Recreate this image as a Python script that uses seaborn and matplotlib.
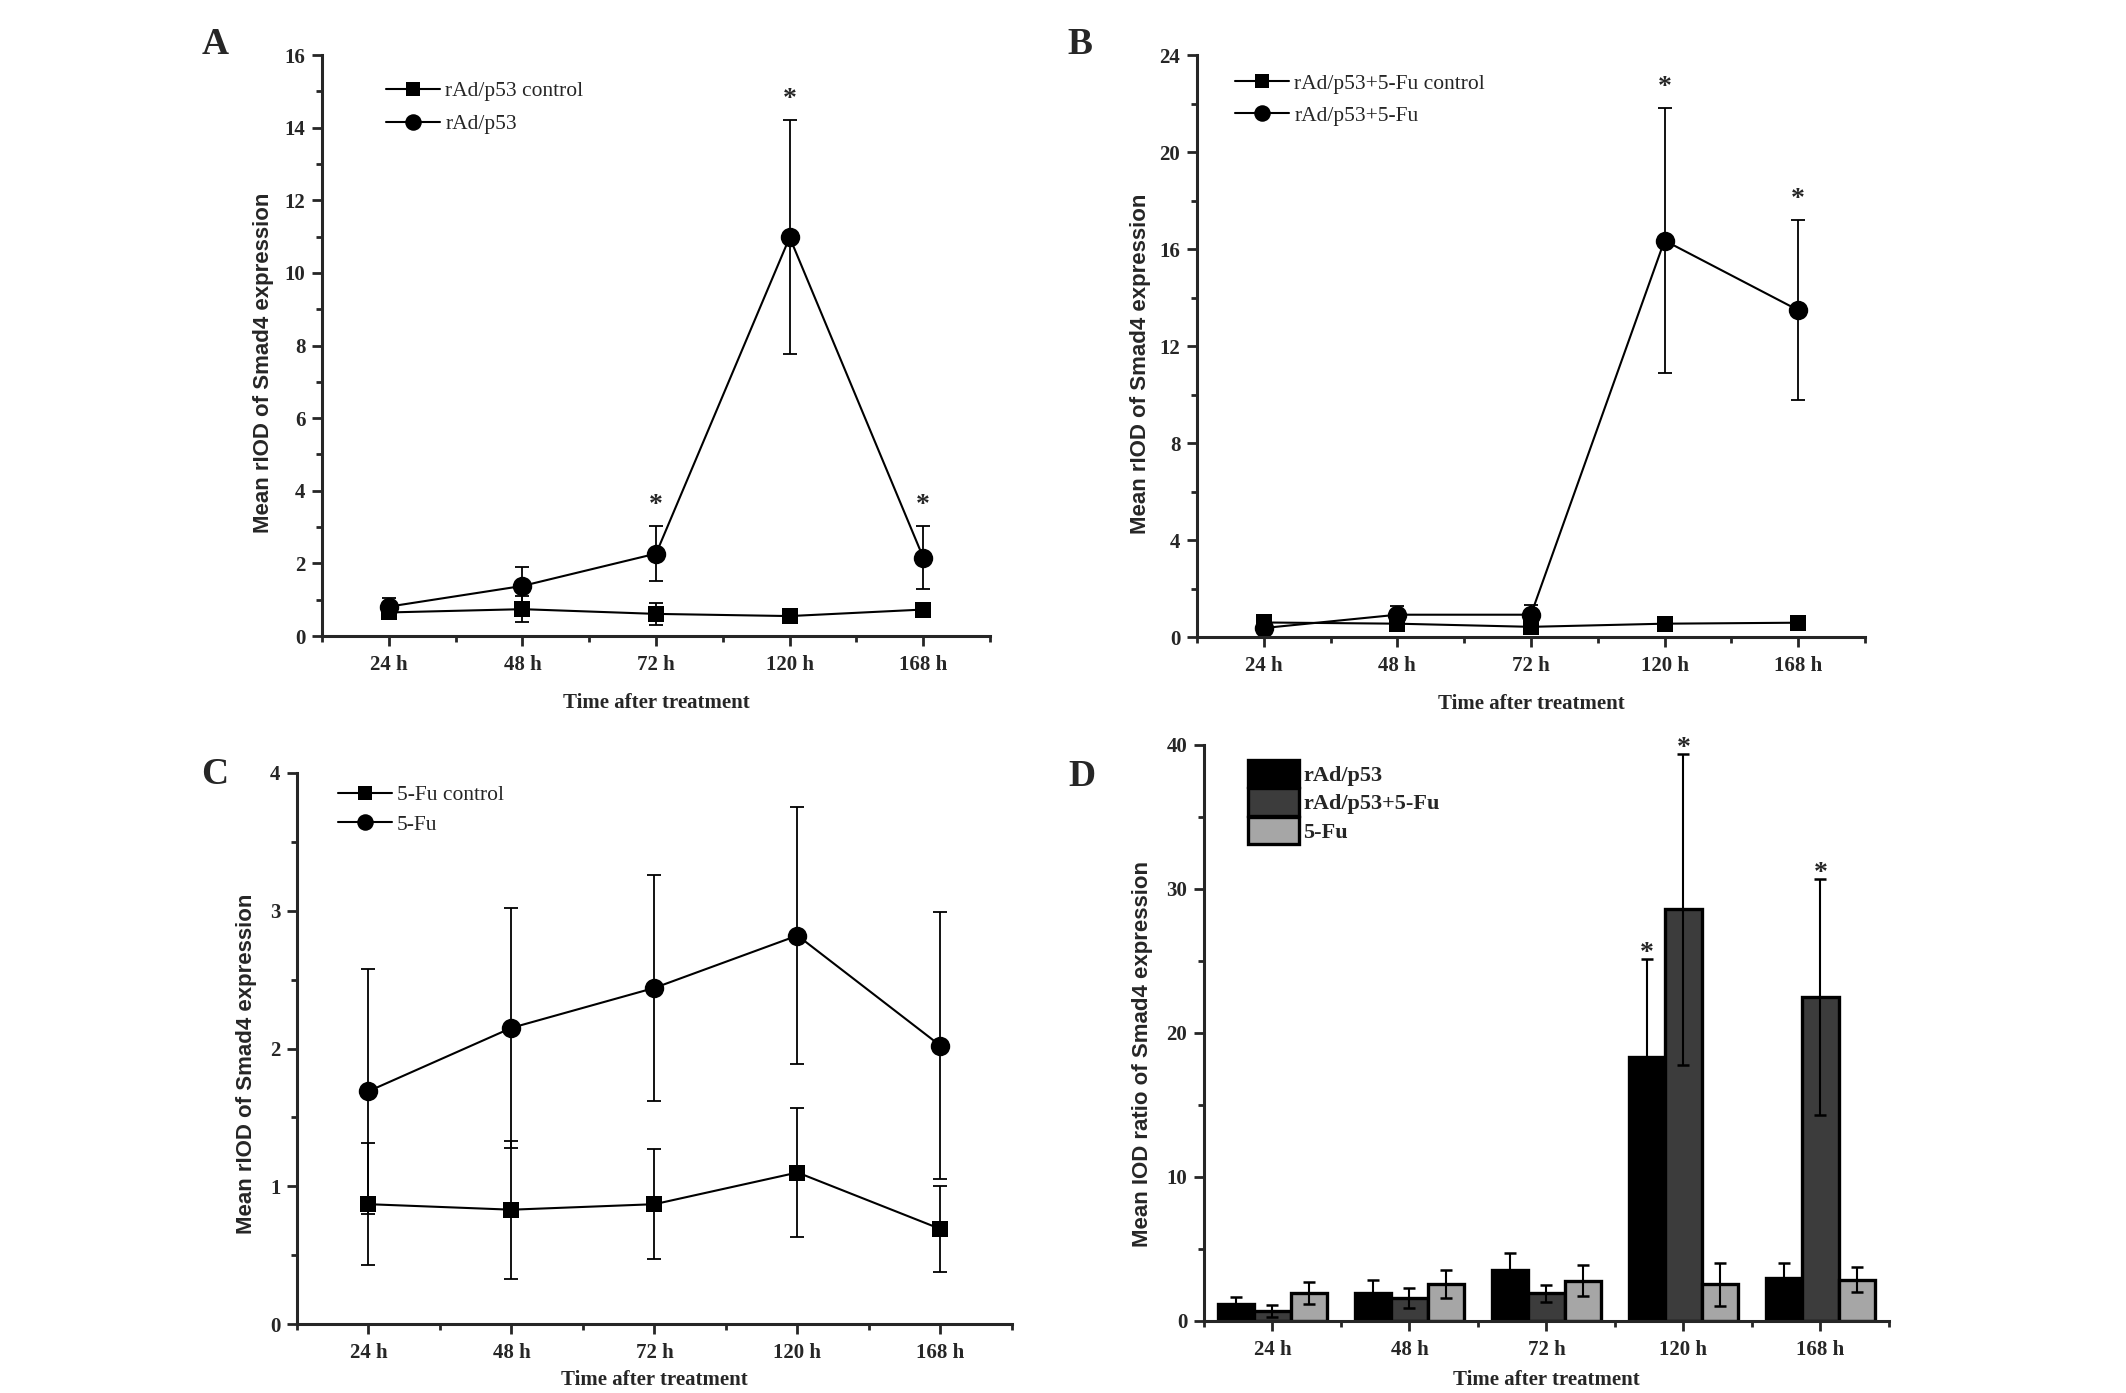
import matplotlib
matplotlib.use('Agg')
import matplotlib.pyplot as plt
from matplotlib.ticker import MultipleLocator, FixedLocator
import seaborn as sns
import pandas as pd
import numpy as np

# time points on the x axis
times = ['24 h', '48 h', '72 h', '120 h', '168 h']

# A: rAd/p53
a_labels = ['rAd/p53 control', 'rAd/p53']
a_ctrl_mean = [0.65, 0.74, 0.61, 0.55, 0.73]
a_ctrl_sd = [0.12, 0.35, 0.30, 0.10, 0.15]
a_trt_mean = [0.81, 1.38, 2.27, 10.98, 2.16]
a_trt_sd = [0.23, 0.52, 0.75, 3.22, 0.86]
a_stars = [2, 3, 4]

# B: rAd/p53+5-Fu
b_labels = ['rAd/p53+5-Fu control', 'rAd/p53+5-Fu']
b_ctrl_mean = [0.60, 0.55, 0.42, 0.55, 0.59]
b_ctrl_sd = [0.18, 0.15, 0.12, 0.15, 0.15]
b_trt_mean = [0.37, 0.92, 0.92, 16.35, 13.48]
b_trt_sd = [0.10, 0.35, 0.40, 5.45, 3.72]
b_stars = [3, 4]

# C: 5-Fu
c_labels = ['5-Fu control', '5-Fu']
c_ctrl_mean = [0.87, 0.83, 0.87, 1.10, 0.69]
c_ctrl_sd = [0.445, 0.50, 0.40, 0.47, 0.31]
c_trt_mean = [1.69, 2.15, 2.44, 2.82, 2.02]
c_trt_sd = [0.89, 0.87, 0.82, 0.93, 0.97]
c_stars = []

# D: IOD ratio
d_groups = ['rAd/p53', 'rAd/p53+5-Fu', '5-Fu']
d_p53_mean = [1.15, 1.92, 3.56, 18.36, 3.00]
d_p53_sd = [0.50, 0.93, 1.18, 6.80, 1.00]
d_comb_mean = [0.68, 1.61, 1.92, 28.60, 22.50]
d_comb_sd = [0.40, 0.70, 0.60, 10.80, 8.20]
d_fu_mean = [1.95, 2.57, 2.79, 2.54, 2.88]
d_fu_sd = [0.77, 1.00, 1.08, 1.50, 0.90]
d_stars = [(0, 3), (1, 3), (1, 4)]
d_colors = ['#000000', '#3c3c3c', '#a6a6a6']

ylabel_line = 'Mean rIOD of Smad4 expression'
ylabel_bar = 'Mean IOD ratio of Smad4 expression'
xlabel = 'Time after treatment'

sns.set_style('ticks')
plt.rcParams['font.family'] = ['Liberation Serif', 'DejaVu Serif']
plt.rcParams['font.weight'] = 'bold'
plt.rcParams['axes.labelweight'] = 'bold'

FS = 15
SANS = ['Liberation Sans', 'DejaVu Sans']


def style_axis(ax, ymax, ystep, ylabel, ylab_pos, xlab_y):
    ax.set_xlim(-0.5, 4.5)
    ax.set_ylim(0, ymax)
    ax.yaxis.set_major_locator(MultipleLocator(ystep))
    ax.yaxis.set_minor_locator(MultipleLocator(ystep / 2))
    ax.xaxis.set_minor_locator(FixedLocator(np.arange(-0.5, 5, 1)))
    sns.despine(ax=ax)
    for s in ['left', 'bottom']:
        ax.spines[s].set_linewidth(2.2)
    ax.tick_params(which='major', direction='out', length=7, width=2,
                   labelsize=FS, pad=5)
    ax.tick_params(which='minor', direction='out', length=4, width=2)
    ax.tick_params(axis='x', which='major', pad=7)
    for lbl in ax.get_xticklabels() + ax.get_yticklabels():
        lbl.set_fontweight('bold')
    ax.set_ylabel(ylabel, fontsize=16, family=SANS, fontweight='bold')
    ax.set_xlabel(xlabel, fontsize=15, fontweight='bold')
    ax.yaxis.set_label_coords(*ylab_pos)
    ax.xaxis.set_label_coords(0.5, xlab_y)
    ax.grid(False)


def line_panel(ax, labels, ctrl_mean, ctrl_sd, trt_mean, trt_sd, stars,
               ymax, ystep, leg_anchor, leg_spacing, ylab_pos, xlab_y):
    df = pd.DataFrame({
        'time': times * 2,
        'value': ctrl_mean + trt_mean,
        'group': [labels[0]] * len(times) + [labels[1]] * len(times),
    })
    sns.pointplot(data=df, x='time', y='value', hue='group', order=times,
                  hue_order=labels, palette=['black', 'black'],
                  markers=['s', 'o'], linestyles=['-', '-'], errorbar=None,
                  linewidth=1.5, markersize=13, markeredgewidth=0,
                  legend=False, ax=ax)
    handles = list(ax.lines[:2])
    handles[0].set_markersize(11.5)
    handles[1].set_markersize(14)
    xs = np.arange(len(times))
    for m, s in [(ctrl_mean, ctrl_sd), (trt_mean, trt_sd)]:
        ax.errorbar(xs, m, yerr=s, fmt='none', ecolor='black',
                    elinewidth=1.3, capsize=5, capthick=1.3, zorder=1)
    for i in stars:
        ax.annotate('*', (xs[i], trt_mean[i] + trt_sd[i]), xytext=(0, 10),
                    textcoords='offset points', ha='center', va='baseline',
                    fontsize=20, fontweight='bold')
    ax.legend(handles, labels, loc='center left', bbox_to_anchor=leg_anchor,
              frameon=False, borderpad=0, borderaxespad=0, handlelength=2.5,
              handletextpad=0.25, labelspacing=leg_spacing, markerscale=0.85,
              prop={'family': 'Liberation Serif', 'weight': 'normal', 'size': 15.5})
    style_axis(ax, ymax, ystep, ylabel_line, ylab_pos, xlab_y)


fig = plt.figure(figsize=(21.26, 13.93), dpi=100)

ax_a = fig.add_axes([0.1515, 0.5434, 0.3142, 0.4171])
ax_b = fig.add_axes([0.5630, 0.5427, 0.3142, 0.4178])
ax_c = fig.add_axes([0.1397, 0.0495, 0.3363, 0.3956])
ax_d = fig.add_axes([0.5663, 0.0517, 0.3222, 0.4135])

line_panel(ax_a, a_labels, a_ctrl_mean, a_ctrl_sd, a_trt_mean, a_trt_sd,
           a_stars, 16, 2, (0.096, 0.909), 0.6, (-0.072, 0.47), -0.098)
line_panel(ax_b, b_labels, b_ctrl_mean, b_ctrl_sd, b_trt_mean, b_trt_sd,
           b_stars, 24, 4, (0.057, 0.923), 0.55, (-0.069, 0.47), -0.098)
line_panel(ax_c, c_labels, c_ctrl_mean, c_ctrl_sd, c_trt_mean, c_trt_sd,
           c_stars, 4, 1, (0.057, 0.933), 0.45, (-0.056, 0.473), -0.083)

# D: grouped bar chart
d_means = [d_p53_mean, d_comb_mean, d_fu_mean]
d_sds = [d_p53_sd, d_comb_sd, d_fu_sd]
df_d = pd.DataFrame({
    'time': times * 3,
    'value': d_p53_mean + d_comb_mean + d_fu_mean,
    'group': sum([[g] * len(times) for g in d_groups], []),
})
sns.barplot(data=df_d, x='time', y='value', hue='group', order=times,
            hue_order=d_groups, palette=d_colors, errorbar=None,
            edgecolor='black', linewidth=2.4, width=0.8, legend=False,
            ax=ax_d)
bar_conts = list(ax_d.containers[:3])
centers = []
for j, cont in enumerate(bar_conts):
    cx = [p.get_x() + p.get_width() / 2 for p in cont.patches]
    centers.append(cx)
    ax_d.errorbar(cx, d_means[j], yerr=d_sds[j], fmt='none', ecolor='black',
                  elinewidth=1.5, capsize=4, capthick=1.8, zorder=5)
for j, i in d_stars:
    ax_d.annotate('*', (centers[j][i], d_means[j][i] + d_sds[j][i]),
                  xytext=(0, -1), textcoords='offset points', ha='center',
                  va='baseline', fontsize=20, fontweight='bold')
ax_d.legend(bar_conts, d_groups, loc='center left', bbox_to_anchor=(0.064, 0.901),
            frameon=False, borderpad=0, borderaxespad=0, handlelength=2.3,
            handleheight=1.5, handletextpad=0.2, labelspacing=0.05,
            prop={'family': 'Liberation Serif', 'weight': 'bold', 'size': 16})
style_axis(ax_d, 40, 10, ylabel_bar, (-0.074, 0.464), -0.085)

# panel letters
for letter, x, y in [('A', 215, 45), ('B', 1080, 45), ('C', 215, 775), ('D', 1082, 777)]:
    fig.text(x / 2126, 1 - y / 1393, letter, ha='center', va='center',
             fontsize=27, fontweight='bold')

plt.savefig('out.png', dpi=100)
plt.close()
